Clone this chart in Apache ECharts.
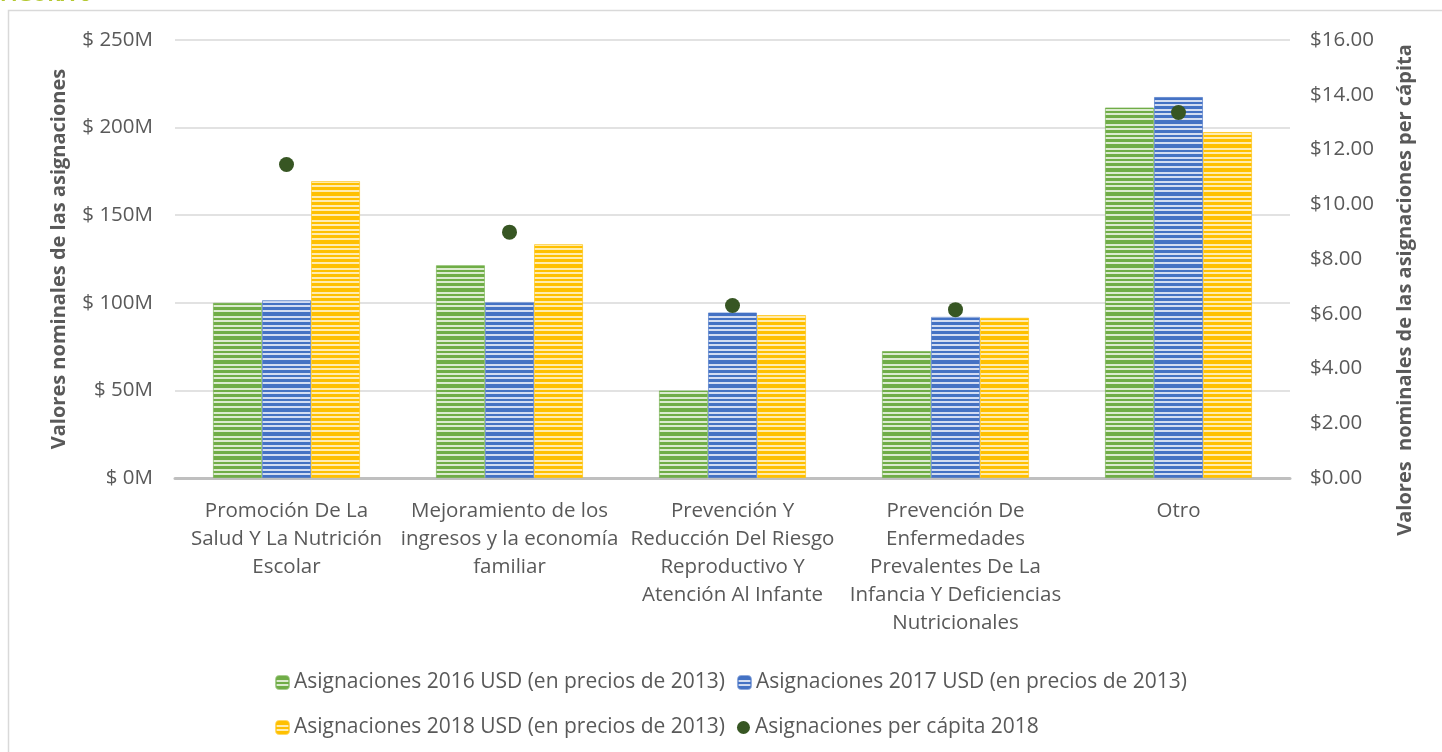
<!DOCTYPE html>
<html>
<head>
<meta charset="utf-8">
<script src="https://cdn.jsdelivr.net/npm/echarts@6/dist/echarts.min.js"></script>
<style>
  html, body { margin: 0; padding: 0; background: #fff; }
  #chart { width: 1442px; height: 752px; }
</style>
</head>
<body>
<div id="chart"></div>
<script>
var categories = [
  'Promoción De La\nSalud Y La Nutrición\nEscolar',
  'Mejoramiento de los\ningresos y la economía\nfamiliar',
  'Prevención Y\nReducción Del Riesgo\nReproductivo Y\nAtención Al Infante',
  'Prevención De\nEnfermedades\nPrevalentes De La\nInfancia Y Deficiencias\nNutricionales',
  'Otro'
];
var seriesNames = [
  'Asignaciones 2016 USD (en precios de 2013)',
  'Asignaciones 2017 USD (en precios de 2013)',
  'Asignaciones 2018 USD (en precios de 2013)',
  'Asignaciones per cápita 2018'
];
var values2016 = [100, 121.5, 50, 72.5, 211.5];
var values2017 = [101.5, 100.5, 94.5, 92, 217.5];
var values2018 = [169.5, 133.5, 93, 91.5, 197.5];
var perCapita2018 = [11.45, 8.98, 6.3, 6.15, 13.35];

(function () {
  var FONT = '"Open Sans", Lato, sans-serif';
  var FS = 20.5;
  var chart = echarts.init(document.getElementById('chart'));

  // patrón de rayas horizontales como el de Excel
  function stripes(main, light) {
    var c = document.createElement('canvas');
    c.width = 8;
    c.height = 24;
    var ctx = c.getContext('2d');
    ctx.fillStyle = light;
    ctx.fillRect(0, 0, 8, 24);
    ctx.fillStyle = main;
    var rows = [[0, 4], [6, 2], [10, 3], [15, 2], [19, 3]];
    rows.forEach(function (r) { ctx.fillRect(0, r[0], 8, r[1]); });
    return { image: c, repeat: 'repeat' };
  }

  var green = stripes('#70ad47', '#dcebd0');
  var blue = stripes('#4472c4', '#d3ddf1');
  var yellow = stripes('#ffc000', '#ffecb0');

  function barSeries(name, data, fill, edge) {
    return {
      name: name,
      type: 'bar',
      data: data,
      barGap: '0%',
      barCategoryGap: '34%',
      itemStyle: { color: fill, borderColor: edge, borderWidth: 1 },
      emphasis: { disabled: true }
    };
  }

  var option = {
    backgroundColor: '#fff',
    textStyle: { fontFamily: FONT },
    animation: false,
    graphic: [
      {
        type: 'rect',
        shape: { x: 8.5, y: 10.5, width: 1500, height: 800 },
        style: { fill: 'none', stroke: '#d9d9d9', lineWidth: 1.5 }
      },
      {
        type: 'text',
        left: 0,
        top: -15,
        style: { text: 'FIGURA 6', fill: '#b4c832', font: 'bold 20px ' + FONT }
      },
      {
        // título del eje derecho, algo desplazado hacia abajo como en el original
        type: 'text',
        x: 1405,
        y: 290,
        rotation: Math.PI / 2,
        style: {
          text: 'Valores  nominales de las asignaciones per cápita',
          fill: '#595959',
          font: 'bold 20px ' + FONT,
          align: 'center',
          verticalAlign: 'middle'
        }
      }
    ],
    grid: { left: 175, right: 152, top: 40, bottom: 274 },
    legend: [
      {
        data: [seriesNames[0], seriesNames[1]],
        left: 270,
        top: 667,
        itemWidth: 13,
        itemHeight: 13,
        itemGap: 12,
        textStyle: { color: '#595959', fontSize: 21, fontFamily: FONT }
      },
      {
        data: [seriesNames[2], seriesNames[3]],
        left: 270,
        top: 712,
        itemWidth: 13,
        itemHeight: 13,
        itemGap: 12,
        textStyle: { color: '#595959', fontSize: 21, fontFamily: FONT }
      }
    ],
    xAxis: {
      type: 'category',
      data: categories,
      axisTick: { show: false },
      axisLine: { lineStyle: { color: '#bfbfbf', width: 3 } },
      axisLabel: {
        color: '#595959',
        fontSize: FS,
        lineHeight: 28,
        margin: 19,
        interval: 0,
        fontFamily: FONT
      }
    },
    yAxis: [
      {
        type: 'value',
        min: 0,
        max: 250,
        interval: 50,
        name: 'Valores nominales de las asignaciones',
        nameLocation: 'middle',
        nameGap: 106,
        nameTextStyle: { color: '#595959', fontSize: 20, fontWeight: 'bold', fontFamily: FONT },
        axisLabel: {
          color: '#595959',
          fontSize: FS,
          margin: 22,
          formatter: function (v) { return '$ ' + v + 'M'; }
        },
        splitLine: { lineStyle: { color: '#d9d9d9', width: 1.5 } },
        axisLine: { show: false },
        axisTick: { show: false }
      },
      {
        type: 'value',
        min: 0,
        max: 16,
        interval: 2,
        axisLabel: {
          color: '#595959',
          fontSize: FS,
          margin: 20,
          formatter: function (v) { return '$' + v.toFixed(2); }
        },
        splitLine: { show: false },
        axisLine: { show: false },
        axisTick: { show: false }
      }
    ],
    series: [
      barSeries(seriesNames[0], values2016, green, 'rgba(112,173,71,0.6)'),
      barSeries(seriesNames[1], values2017, blue, 'rgba(68,114,196,0.6)'),
      barSeries(seriesNames[2], values2018, yellow, 'rgba(255,192,0,0.6)'),
      {
        name: seriesNames[3],
        type: 'scatter',
        yAxisIndex: 1,
        data: perCapita2018,
        symbol: 'circle',
        symbolSize: 15,
        itemStyle: { color: '#375623', opacity: 1 },
        z: 5
      }
    ]
  };

  chart.setOption(option);
  window.addEventListener('resize', function () {
    chart.resize();
  });
})();
</script>
</body>
</html>
